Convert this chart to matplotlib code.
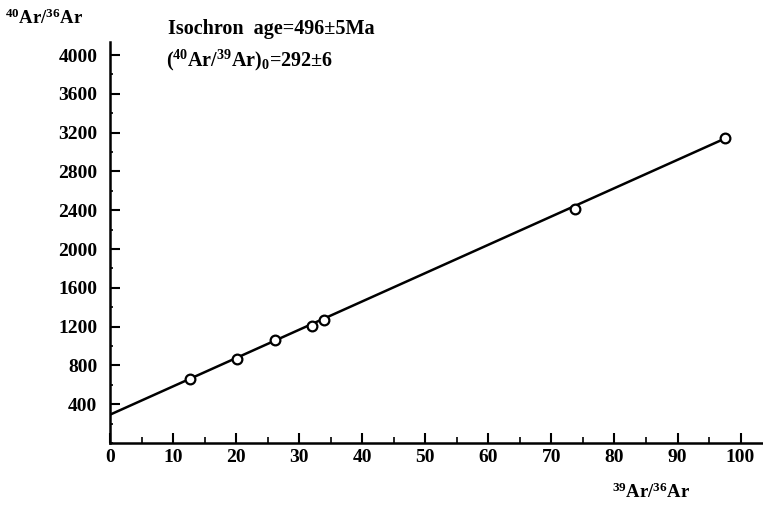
import numpy as np
import matplotlib
matplotlib.use('Agg')
import matplotlib.pyplot as plt
from matplotlib.ticker import MultipleLocator

plt.rcParams['font.family'] = 'Liberation Serif'
plt.rcParams['font.weight'] = 'bold'
plt.rcParams['mathtext.fontset'] = 'custom'
plt.rcParams['mathtext.rm'] = 'Liberation Serif:bold'
plt.rcParams['mathtext.it'] = 'Liberation Serif:bold'
plt.rcParams['mathtext.bf'] = 'Liberation Serif:bold'

# Measured points (39Ar/36Ar, 40Ar/36Ar)
x_pts = [12.7, 20.1, 26.1, 32.0, 34.0, 73.7, 97.6]
y_pts = [660, 866, 1060, 1210, 1268, 2417, 3140]

# Isochron line
intercept = 292
slope = 29.2
x_line = [0, 97.6]

x_ticks = [0, 10, 20, 30, 40, 50, 60, 70, 80, 90, 100]
y_ticks = [400, 800, 1200, 1600, 2000, 2400, 2800, 3200, 3600, 4000]

fig = plt.figure(figsize=(7.63, 5.07), dpi=100)
ax = fig.add_axes([110 / 763, 64 / 507, 652 / 763, 401 / 507])

y_line = [intercept + slope * v for v in x_line]
ax.plot(x_line, y_line, color='black', lw=1.8, zorder=2)
ax.plot(x_pts, y_pts, 'o', ms=7, mfc='white', mec='black', mew=1.6, zorder=3)

ax.set_xlim(0, 103.4)
ax.set_ylim(0, 4135)
ax.set_xticks(x_ticks)
ax.set_yticks(y_ticks)
ax.xaxis.set_minor_locator(MultipleLocator(5))
ax.yaxis.set_minor_locator(MultipleLocator(200))

for s in ['top', 'right']:
    ax.spines[s].set_visible(False)
for s in ['left', 'bottom']:
    ax.spines[s].set_linewidth(1.8)

ax.tick_params(axis='both', which='major', direction='in', length=7, width=1.5,
               labelsize=14)
ax.tick_params(axis='x', which='major', pad=4)
ax.tick_params(axis='y', which='major', pad=9)
ax.tick_params(axis='both', which='minor', direction='in', length=4, width=1.2)
ax.tick_params(axis='y', which='minor', length=2.5)

fig.text(5 / 763, 1 - 18 / 507, r'$^{40}$Ar/$^{36}$Ar', fontsize=13.5, va='center', ha='left')
fig.text(612 / 763, 1 - 492 / 507, r'$^{39}$Ar/$^{36}$Ar', fontsize=13.5, va='center', ha='left')

fig.text(168 / 763, 1 - 29 / 507, 'Isochron  age=496±5Ma', fontsize=14.5, va='center', ha='left')
fig.text(166 / 763, 1 - 60 / 507, r'($^{40}$Ar/$^{39}$Ar)$_0$=292±6', fontsize=14.5, va='center', ha='left')

plt.savefig('out.png', dpi=100)
